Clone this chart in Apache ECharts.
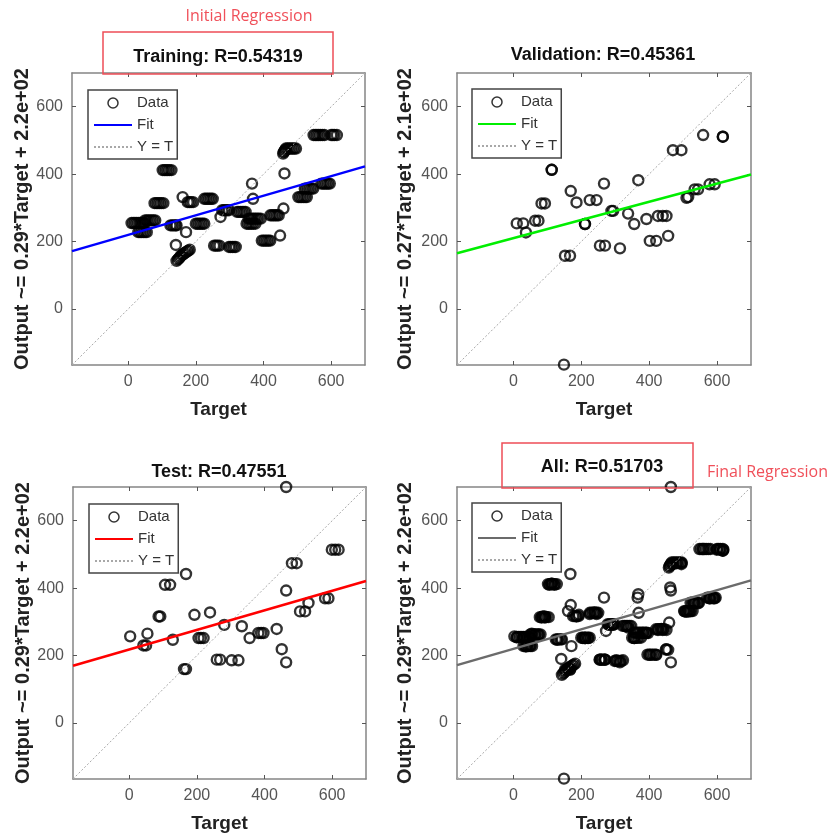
<!DOCTYPE html>
<html>
<head>
<meta charset="utf-8">
<script src="https://cdn.jsdelivr.net/npm/echarts@6/dist/echarts.min.js"></script>
<style>
html, body { margin: 0; padding: 0; background: #fff; }
#main { width: 836px; height: 836px; }
</style>
</head>
<body>
<div id="main"></div>
<script>
// targets vs outputs (runs of near-equal outputs give the black blobs)
var trainData = [
    [10,255],[15,255],[20,255],[25,255],[30,255],[35,255],[40,255],[45,255],[49,255],
    [30,228],[35,228],[40,228],[45,228],[50,228],[55,228],
    [50,263],[55,263],[60,263],[65,263],[70,263],[75,263],[80,263],
    [78,314],[83,314],[88,314],[93,314],[98,314],[104,314],
    [102,412],[107,412],[112,412],[117,412],[122,412],[128,412],
    [125,248],[130,248],[135,248],[140,248],[143,248],
    [141,190],[161,332],[171,228],
    [143,143],[147,147],[150,150],[153,154],[156,158],[160,161],[163,163],[167,166],[170,168],[174,171],[178,173],[182,176],
    [176,317],[181,317],[186,317],[192,317],
    [200,253],[205,253],[210,253],[215,253],[220,253],[225,253],
    [225,327],[230,327],[235,327],[240,327],[245,327],[250,327],
    [254,188],[259,188],[264,188],[270,188],
    [278,293],[283,293],[288,293],[293,293],[298,293],[273,273],
    [298,184],[303,184],[308,184],[313,184],[318,184],
    [322,288],[327,288],[332,288],[337,288],[342,288],[347,288],
    [350,253],[355,253],[360,253],[365,253],[370,253],[376,253],
    [356,268],[361,268],[366,268],[371,268],[376,268],[381,268],[386,268],[392,268],
    [366,372],[369,327],
    [395,203],[400,203],[405,203],[410,203],[415,203],[420,203],
    [420,278],[425,278],[430,278],[435,278],[440,278],[445,278],
    [449,218],[459,298],[462,402],
    [458,461],[460,465],[462,468],[464,472],[466,476],[471,476],[476,476],[481,476],[486,476],[491,476],[496,476],
    [503,332],[508,332],[513,332],[518,332],[523,332],[528,332],
    [522,357],[527,357],[532,357],[537,357],[542,357],[547,357],
    [548,516],[553,516],[558,516],[563,516],[568,516],[574,516],[580,516],
    [571,372],[576,372],[581,372],[586,372],[591,372],[596,372],
    [600,516],[605,516],[610,516],[617,516]
];
var valData = [
    [10,254],[29,254],[37,227],[64,262],[74,262],[83,313],[93,313],[113,413],[113,413],
    [152,158],[167,158],[149,-165],[169,350],[186,316],[211,252],[211,252],[225,323],[245,323],
    [255,188],[270,188],[267,372],[289,291],[294,291],[314,180],[338,283],[356,252],[368,382],
    [392,267],[402,202],[421,202],[426,276],[440,276],[451,276],[456,217],[470,471],[495,471],
    [510,330],[515,332],[534,355],[544,355],[578,370],[593,370],[559,516],[617,511],[617,511]
];
var testData = [
    [3,257],[54,265],[42,230],[50,230],[87,316],[92,316],[106,410],[121,410],[129,247],
    [162,160],[168,160],[168,442],[193,321],[205,252],[212,252],[220,252],[239,328],[259,188],
    [269,188],[281,291],[303,186],[323,186],[333,287],[356,252],[382,267],[390,267],[397,267],
    [436,279],[451,219],[464,393],[464,180],[464,700],[481,474],[495,474],[505,331],[520,331],
    [530,356],[579,370],[589,370],[599,514],[609,514],[619,514]
];
var allData = trainData.concat(valData, testData);

var panelNames = ['Training', 'Validation', 'Test', 'All'];
var panelData = [trainData, valData, testData, allData];
var panelTitles = ['Training: R=0.54319', 'Validation: R=0.45361', 'Test: R=0.47551', 'All: R=0.51703'];
var yNames = [
    'Output ~= 0.29*Target + 2.2e+02',
    'Output ~= 0.27*Target + 2.1e+02',
    'Output ~= 0.29*Target + 2.2e+02',
    'Output ~= 0.29*Target + 2.2e+02'
];
var fitSlopes = [0.29, 0.27, 0.29, 0.29];
var fitIntercepts = [220, 210, 218, 220];
var fitColors = ['#0000ff', '#00ee00', '#ff0000', '#6b6b6b'];
var tickValues = [0, 200, 400, 600];
var axisMin = -166, axisMax = 700;

var font = '"Liberation Sans", Arial, sans-serif';
var grids = [
    { left: 72, top: 73, width: 293, height: 292 },
    { left: 457, top: 73, width: 294, height: 292 },
    { left: 73, top: 487, width: 293, height: 292 },
    { left: 457, top: 487, width: 294, height: 292 }
];
var titlePos = [[218, 47], [603, 45], [219, 462], [602, 457]];
var legendPos = [[88, 90], [472, 89], [89, 504], [472, 503]];
var yNameGap = [40, 42, 40, 42];

var boxLine = { color: '#858585', width: 1.5 };
var tickStyle = { inside: true, length: 4, customValues: tickValues, lineStyle: { color: '#555', width: 1 } };
var noDot = { color: 'rgba(0,0,0,0)', borderWidth: 0 };

var option = {
    animation: false,
    backgroundColor: '#fff',
    grid: grids,
    title: [],
    legend: [],
    xAxis: [],
    yAxis: [],
    series: [],
    graphic: [
        { type: 'rect', shape: { x: 103, y: 32, width: 230, height: 42 },
          style: { fill: 'none', stroke: '#ee4d57', lineWidth: 1.5 }, z: 100 },
        { type: 'text', x: 249, y: 16,
          style: { text: 'Initial Regression', fill: '#f0505a', font: '16px "Open Sans"', align: 'center', verticalAlign: 'middle' }, z: 100 },
        { type: 'rect', shape: { x: 502, y: 443, width: 191, height: 45 },
          style: { fill: 'none', stroke: '#ee4d57', lineWidth: 1.5 }, z: 100 },
        { type: 'text', x: 707, y: 472,
          style: { text: 'Final Regression', fill: '#f0505a', font: '16px "Open Sans"', align: 'left', verticalAlign: 'middle' }, z: 100 }
    ]
};

panelNames.forEach(function (p, i) {
    option.title.push({
        text: panelTitles[i], left: titlePos[i][0], top: titlePos[i][1], textAlign: 'center', padding: 0,
        textStyle: { fontSize: 18, fontWeight: 'bold', color: '#111', fontFamily: font, lineHeight: 20 }
    });
    option.xAxis.push({
        gridIndex: i, type: 'value', min: axisMin, max: axisMax, position: 'bottom',
        name: 'Target', nameLocation: 'middle', nameGap: 35,
        nameTextStyle: { fontSize: 19, fontWeight: 'bold', color: '#222', fontFamily: font },
        axisLine: { onZero: false, lineStyle: boxLine },
        axisTick: tickStyle,
        axisLabel: { customValues: tickValues, margin: 9, fontSize: 16, color: '#555', fontFamily: font },
        splitLine: { show: false }
    }, {
        gridIndex: i, type: 'value', min: axisMin, max: axisMax, position: 'top',
        axisLine: { onZero: false, lineStyle: boxLine },
        axisTick: tickStyle, axisLabel: { show: false }, splitLine: { show: false }
    });
    option.yAxis.push({
        gridIndex: i, type: 'value', min: axisMin, max: axisMax, position: 'left',
        name: yNames[i], nameLocation: 'middle', nameGap: yNameGap[i],
        nameTextStyle: { fontSize: 20, fontWeight: 'bold', color: '#222', fontFamily: font },
        axisLine: { onZero: false, lineStyle: boxLine },
        axisTick: tickStyle,
        axisLabel: { customValues: tickValues, margin: 9, fontSize: 16, color: '#555', fontFamily: font },
        splitLine: { show: false }
    }, {
        gridIndex: i, type: 'value', min: axisMin, max: axisMax, position: 'right',
        axisLine: { onZero: false, lineStyle: boxLine },
        axisTick: tickStyle, axisLabel: { show: false }, splitLine: { show: false }
    });

    var xi = 2 * i, yi = 2 * i;
    option.series.push({
        name: p + ' Y = T', type: 'line', xAxisIndex: xi, yAxisIndex: yi,
        data: [[axisMin, axisMin], [axisMax, axisMax]],
        symbol: 'none', silent: true, itemStyle: noDot,
        lineStyle: { color: '#a8a8a8', width: 1, type: [2, 2] }
    }, {
        name: p + ' Data', type: 'scatter', xAxisIndex: xi, yAxisIndex: yi,
        data: panelData[i], symbol: 'circle', symbolSize: 10, silent: true,
        itemStyle: { color: 'rgba(0,0,0,0)', borderColor: '#000', borderWidth: 2.4 }
    }, {
        name: p + ' Fit', type: 'line', xAxisIndex: xi, yAxisIndex: yi,
        data: [[axisMin, fitIntercepts[i] + fitSlopes[i] * axisMin], [axisMax, fitIntercepts[i] + fitSlopes[i] * axisMax]],
        symbol: 'none', silent: true, itemStyle: noDot,
        lineStyle: { color: fitColors[i], width: 2.5 }
    });

    option.legend.push({
        left: legendPos[i][0], top: legendPos[i][1], orient: 'vertical',
        padding: [5, 4, 4, 5], itemGap: 6, itemWidth: 38, itemHeight: 10,
        borderColor: '#444', borderWidth: 1.5, backgroundColor: '#fff',
        selectedMode: false, z: 20,
        textStyle: { fontSize: 15, color: '#333', fontFamily: font, lineHeight: 16 },
        formatter: function (n) { return n.slice(p.length + 1); },
        data: [
            { name: p + ' Data', icon: 'circle', itemStyle: { color: 'rgba(0,0,0,0)', borderColor: '#000', borderWidth: 1.5 } },
            { name: p + ' Fit', itemStyle: noDot },
            { name: p + ' Y = T', itemStyle: noDot }
        ]
    });
});

var chart = echarts.init(document.getElementById('main'));
chart.setOption(option);
</script>
</body>
</html>
